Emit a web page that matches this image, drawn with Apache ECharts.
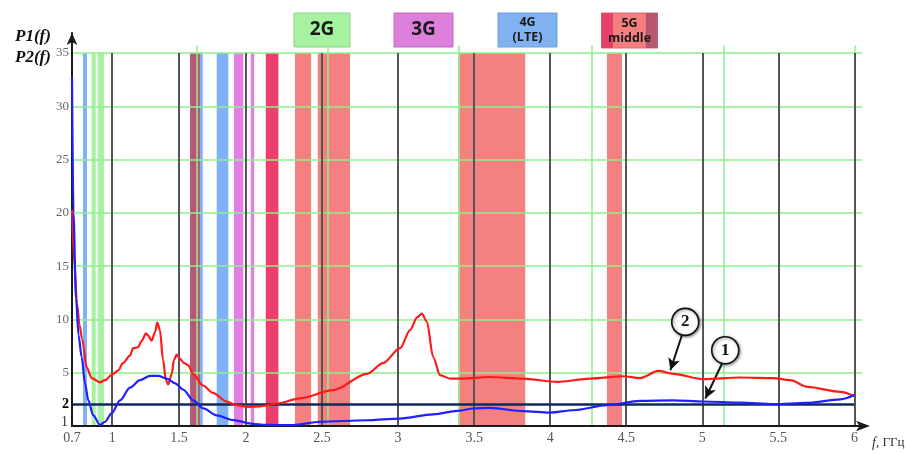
<!DOCTYPE html>
<html><head><meta charset="utf-8">
<script src="https://cdn.jsdelivr.net/npm/echarts@6/dist/echarts.min.js"></script>
<style>html,body{margin:0;padding:0;background:#fff}#c{width:908px;height:453px}</style>
</head><body><div id="c"></div>
<script>
// ---------- data ----------
// curve 1 : P1(f) (blue)
const p1Freq = [0.700,0.711,0.730,0.749,0.772,0.797,0.822,0.859,0.909,0.947,0.997,1.059,1.133,1.208,1.283,1.345,1.407,1.470,1.532,1.606,1.681,1.781,1.905,2.000,
                2.136,2.309,2.487,2.796,3.013,3.230,3.408,3.493,3.605,3.822,4.000,4.151,4.375,4.592,4.809,5.007,5.250,5.467,5.691,5.908,6.000];
const p1Vals = [32.7,20.0,12.0,8.5,6.5,4.0,2.4,1.0,0.1,0.4,1.2,2.4,3.6,4.3,4.7,4.7,4.45,4.0,3.4,2.4,1.65,1.0,0.55,0.3,
                0.1,0.08,0.4,0.54,0.7,1.1,1.45,1.64,1.7,1.4,1.26,1.48,1.95,2.36,2.4,2.3,2.2,2.05,2.17,2.5,2.9];
// curve 2 : P2(f) (red)
const p2Freq = [0.700,0.719,0.737,0.756,0.775,0.810,0.847,0.909,0.947,0.997,1.044,1.081,1.133,1.156,1.193,1.221,1.253,1.268,1.295,1.320,1.337,1.357,1.380,1.402,1.419,1.445,1.462,1.482,1.507,1.537,1.569,1.604,1.679,1.753,1.856,1.930,2.000,
                2.092,2.200,2.355,2.572,2.796,2.901,3.013,3.079,3.125,3.156,3.189,3.230,3.276,3.342,3.408,3.605,3.822,4.046,4.263,4.480,4.592,4.711,4.809,5.007,5.250,5.467,5.579,5.691,5.908,6.000];
const p2Vals = [20.3,15.0,11.5,9.5,8.2,5.5,4.5,4.1,4.3,4.8,5.2,5.9,6.6,7.3,7.4,8.0,8.7,8.5,8.0,8.8,9.7,9.0,6.2,4.3,3.9,4.9,6.2,6.7,6.3,5.9,5.7,4.9,3.8,3.1,2.3,1.95,1.8,
                1.85,2.1,2.6,3.36,4.9,5.9,7.3,9.0,10.2,10.55,9.8,6.5,4.77,4.45,4.45,4.6,4.45,4.14,4.45,4.67,4.5,5.17,4.9,4.4,4.55,4.5,4.3,3.67,3.2,2.8];

const xTickValues = [0.7, 1, 1.5, 2, 2.5, 3, 3.5, 4, 4.5, 5, 5.5, 6];
const yTickValues = [5, 10, 15, 20, 25, 30, 35];
const thresholdLevel = 2;
const bottomLabelValue = 1;
const overlayGridFreq = [1.634, 2.539, 3.401, 4.276, 5.138, 6];

// frequency bands (GHz)
const bandStart = [0.782, 0.847, 0.892, 1.582, 1.656, 1.781, 1.910, 2.031, 2.130, 2.322, 2.472, 3.397, 4.373];
const bandEnd   = [0.812, 0.877, 0.939, 1.656, 1.677, 1.868, 1.980, 2.054, 2.213, 2.428, 2.684, 3.836, 4.472];
const bandKind  = ['blue','green','green','maroon','blue','blue','magenta','magenta','crimson','red','red','red','red'];

const headerLabels = ['2G', '3G', '4G\n(LTE)', '5G\nmiddle'];
const headerKind   = ['green', 'magenta', 'blue', 'five'];

// curve annotations (data coordinates)
const annotLabels = ['2', '1'];
const annotAt     = [[4.888, 9.77], [5.151, 7.11]];
const annotFrom   = [[4.866, 8.52], [5.130, 5.86]];
const annotTo     = [[4.790, 5.23], [5.020, 2.58]];

// ---------- styling / layout ----------
const BREAK_FREQ = 2;
const Y_TOP_VALUE = 35;
const Y_MAX = 36.88;
const bandColor = {
  blue: 'rgba(0,100,240,0.5)', green: 'rgba(80,230,70,0.5)', maroon: 'rgba(160,30,70,0.75)',
  magenta: 'rgba(200,0,200,0.5)', crimson: 'rgba(230,30,80,0.85)', red: 'rgba(240,60,60,0.65)'
};
const headerFill = { green: '#a6f2a0', magenta: '#dc80dc', blue: '#80b2f2', five: '#f47f7f' };
const headerStroke = { green: '#8fd08c', magenta: '#c06cc0', blue: '#6e9edc', five: '#d86a7a' };
const headerBox = [[294,13,56,34],[394,13,59,34],[498,13,59,34],[601.5,13,56,35]];
const serif = 'Liberation Serif';

const inGridCurve = (f, g) => g === 0 ? f <= BREAK_FREQ : f >= BREAK_FREQ;
const inGridTick  = (f, g) => g === 0 ? f < BREAK_FREQ : f >= BREAK_FREQ;
const pairs = (fs, vs, g) => fs.map((f, i) => [f, vs[i]]).filter(p => inGridCurve(p[0], g));

const series = [];
[0, 1].forEach(g => {
  const axes = { xAxisIndex: g, yAxisIndex: g };
  // green grid lines
  series.push(Object.assign({
    type: 'line', data: [], z: 1, silent: true,
    markLine: {
      silent: true, symbol: 'none', label: { show: false },
      lineStyle: { color: '#8cf08c', width: 1.5, type: 'solid' },
      data: yTickValues.map(v => ({ yAxis: v })).concat(
        overlayGridFreq.filter(f => inGridTick(f, g)).map(f => [{ coord: [f, 0] }, { coord: [f, Y_TOP_VALUE + 0.7] }]))
    }
  }, axes));
  // dark vertical tick lines
  series.push(Object.assign({
    type: 'line', data: [], z: 2, silent: true,
    markLine: {
      silent: true, symbol: 'none', label: { show: false },
      lineStyle: { color: '#555', width: 2, type: 'solid' },
      data: xTickValues.filter(f => f > xTickValues[0] && inGridTick(f, g)).map(f => [{ coord: [f, 0] }, { coord: [f, Y_TOP_VALUE] }])
    }
  }, axes));
  // bands
  series.push(Object.assign({
    type: 'line', data: [], z: 3, silent: true,
    markArea: {
      silent: true, label: { show: false },
      data: bandStart.map((s, i) => ({ s, e: bandEnd[i], k: bandKind[i] }))
        .filter(b => inGridTick(b.s, g))
        .map(b => [{ xAxis: b.s, yAxis: 0, itemStyle: { color: bandColor[b.k] } }, { xAxis: b.e, yAxis: Y_TOP_VALUE }])
    }
  }, axes));
  // curves (drawn above the axis lines, as in the reference)
  series.push(Object.assign({
    name: 'P2(f)', type: 'line', z: 11, showSymbol: false, smooth: 0.3, smoothMonotone: 'x',
    lineStyle: { color: '#ff1a1a', width: 2.2 }, itemStyle: { color: '#ff1a1a' },
    data: pairs(p2Freq, p2Vals, g)
  }, axes));
  series.push(Object.assign({
    name: 'P1(f)', type: 'line', z: 12, showSymbol: false, smooth: 0.3, smoothMonotone: 'x',
    lineStyle: { color: '#1f1fff', width: 2.2 }, itemStyle: { color: '#1f1fff' },
    data: pairs(p1Freq, p1Vals, g)
  }, axes));
  // threshold line
  series.push(Object.assign({
    type: 'line', data: [], z: 13, silent: true,
    markLine: {
      silent: true, symbol: 'none', label: { show: false },
      lineStyle: { color: '#0f2a5a', width: 2.5, type: 'solid' },
      data: [g === 0 ? { yAxis: thresholdLevel } : [{ coord: [BREAK_FREQ, thresholdLevel] }, { coord: [xTickValues[xTickValues.length - 1], thresholdLevel] }]]
    }
  }, axes));
});
// annotations
series.push({
  type: 'line', data: [], z: 14, xAxisIndex: 1, yAxisIndex: 1, silent: true,
  markLine: {
    silent: true, symbol: ['none', 'arrow'], symbolSize: [9, 12], label: { show: false },
    lineStyle: { color: '#111', width: 2, type: 'solid' },
    data: annotFrom.map((f, i) => [{ coord: f }, { coord: annotTo[i] }])
  },
  markPoint: {
    silent: true, symbol: 'circle', symbolSize: 27,
    itemStyle: { color: '#fff', borderColor: '#111', borderWidth: 1.6, shadowBlur: 3, shadowColor: 'rgba(0,0,0,0.45)', shadowOffsetX: 1, shadowOffsetY: 1 },
    label: { show: true, formatter: '{b}', color: '#111', fontWeight: 'bold', fontFamily: serif, fontSize: 17 },
    data: annotLabels.map((t, i) => ({ name: t, coord: annotAt[i] }))
  }
});

const axisLabelStyle = { color: '#555', fontFamily: serif, fontSize: 14 };

const graphics = [];
headerLabels.forEach((t, i) => {
  const [x, y, w, h] = headerBox[i];
  const k = headerKind[i];
  const big = t.indexOf('\n') < 0;
  const children = [{ type: 'rect', shape: { x: 0, y: 0, width: w, height: h }, style: { fill: headerFill[k], stroke: headerStroke[k], lineWidth: 1 } }];
  if (k === 'five') {
    children.push({ type: 'rect', shape: { x: 0, y: 0, width: 11.5, height: h }, style: { fill: '#e84068' } });
    children.push({ type: 'rect', shape: { x: w - 11.7, y: 0, width: 11.7, height: h }, style: { fill: '#b8566f' } });
  }
  children.push({
    type: 'text', x: w / 2, y: h / 2,
    style: { text: t, fill: '#1a1a1a', align: 'center', verticalAlign: 'middle',
      font: big ? 'bold 19px "Open Sans"' : 'bold 12.5px "Open Sans"', lineHeight: 15 }
  });
  graphics.push({ type: 'group', x: x, y: y, children: children });
});

const option = {
  animation: false,
  backgroundColor: '#fff',
  title: {
    text: 'P1(f)\nP2(f)', left: 10, top: 21,
    textStyle: { fontFamily: serif, fontStyle: 'italic', fontWeight: 'bold', fontSize: 17, lineHeight: 21, color: '#111' }
  },
  grid: [
    { left: 72, top: 33, width: 174, height: 393 },
    { left: 246, top: 33, width: 616, height: 393 }
  ],
  xAxis: [
    { gridIndex: 0, type: 'value', min: xTickValues[0], max: BREAK_FREQ, z: 10,
      axisLine: { show: true, lineStyle: { color: '#1a1a1a', width: 2 } },
      axisTick: { show: false }, splitLine: { show: false },
      axisLabel: Object.assign({ customValues: xTickValues.filter(v => v < BREAK_FREQ), margin: 5 }, axisLabelStyle) },
    { gridIndex: 1, type: 'value', min: BREAK_FREQ, max: 6.05, z: 10,
      axisLine: { show: true, lineStyle: { color: '#1a1a1a', width: 2 }, symbol: ['none', 'arrow'], symbolSize: [8, 14], symbolOffset: [0, 8] },
      axisTick: { show: false }, splitLine: { show: false },
      axisLabel: Object.assign({ customValues: xTickValues.filter(v => v >= BREAK_FREQ), margin: 5 }, axisLabelStyle),
      name: '{i|f}, ГГц', nameLocation: 'end', nameGap: 10,
      nameTextStyle: { fontFamily: serif, fontSize: 13, color: '#333', verticalAlign: 'top', padding: [10, 0, 0, 0],
        rich: { i: { fontFamily: serif, fontStyle: 'italic', fontSize: 14, color: '#333' } } } }
  ],
  yAxis: [
    { gridIndex: 0, type: 'value', position: 'left', min: 0, max: Y_MAX, z: 10,
      axisLine: { show: true, lineStyle: { color: '#1a1a1a', width: 2 }, symbol: ['none', 'arrow'], symbolSize: [8, 12] },
      axisTick: { show: false }, splitLine: { show: false },
      axisLabel: { customValues: [thresholdLevel].concat(yTickValues), margin: 3, color: '#666', fontFamily: serif, fontSize: 13,
        formatter: v => v === thresholdLevel ? '{b|' + v + '}' : String(v),
        rich: { b: { fontFamily: serif, fontWeight: 'bold', fontSize: 14, color: '#000' } } } },
    { gridIndex: 1, type: 'value', min: 0, max: Y_MAX, show: false },
    { gridIndex: 0, type: 'value', position: 'left', offset: 0, min: 0, max: Y_MAX, z: 10,
      axisLine: { show: false }, axisTick: { show: false }, splitLine: { show: false },
      axisLabel: { customValues: [bottomLabelValue], verticalAlign: 'top', margin: 4, color: '#333', fontFamily: serif, fontSize: 14 } }
  ],
  graphic: graphics,
  series: series
};

const chart = echarts.init(document.getElementById('c'), null, { renderer: 'canvas' });
chart.setOption(option);
</script>
</body></html>
